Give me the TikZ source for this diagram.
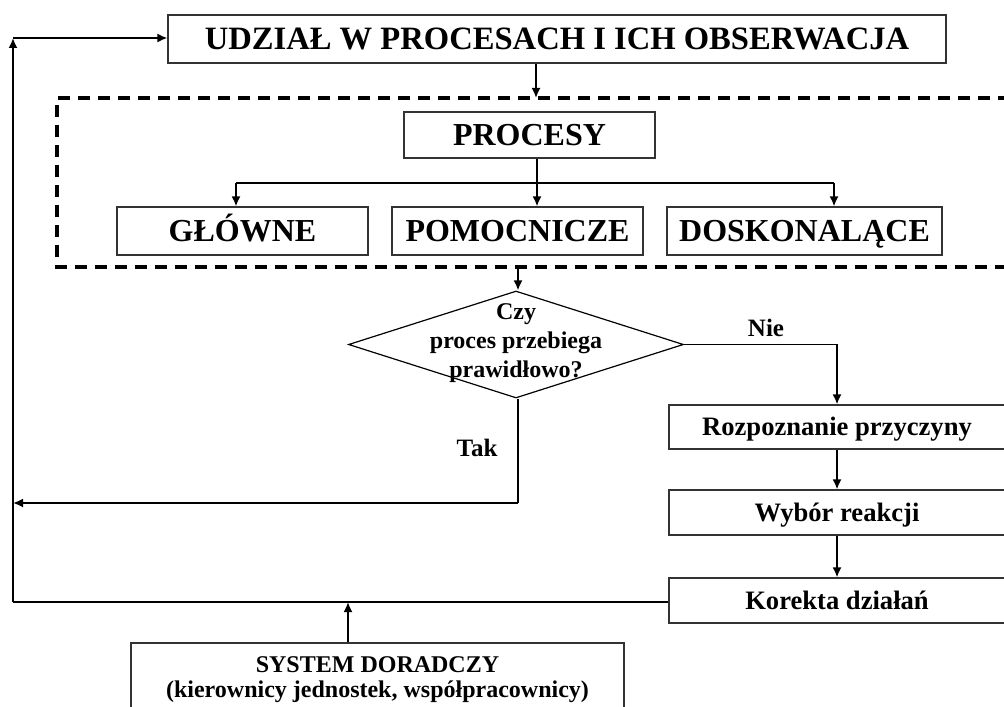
\documentclass[tikz,border=0pt]{standalone}
\usepackage{fontspec}
\setmainfont{Liberation Serif}
\usetikzlibrary{arrows.meta,shapes.geometric}
\begin{document}
\begin{tikzpicture}[x=0.5pt,y=-0.5pt,
  box/.style={draw=black!80, line width=0.6pt, inner sep=0pt, text depth=0pt},
  bigtxt/.style={font=\bfseries\fontsize{16.3}{19}\selectfont, text height=10.8pt},
  midtxt/.style={font=\bfseries\fontsize{16}{18}\selectfont, text height=10.6pt},
  smtxt/.style={font=\bfseries\fontsize{13.3}{15}\selectfont, text height=8.8pt},
  lbltxt/.style={font=\bfseries\fontsize{12.5}{14.5}\selectfont, align=center, inner sep=0pt},
  conn/.style={line width=0.9pt, -{Latex[length=5pt,width=4.5pt]}},
  plain/.style={line width=0.9pt}]
\useasboundingbox (0,0) rectangle (1004,706);
% dashed frame
\draw[line width=2pt, dash pattern=on 6pt off 4pt] (1030,98) -- (57,98) -- (57,267) -- (1030,267);
% boxes
\node[box, bigtxt, minimum width=389pt, minimum height=24pt] (top) at (557,39) {UDZIAŁ W PROCESACH I ICH OBSERWACJA};
\node[box, midtxt, minimum width=125.5pt, minimum height=23pt] (proc) at (529.5,135) {PROCESY};
\node[box, midtxt, minimum width=125.5pt, minimum height=24pt] (gl) at (242.5,231) {GŁÓWNE};
\node[box, midtxt, minimum width=125.5pt, minimum height=24pt] (pom) at (517.5,231) {POMOCNICZE};
\node[box, midtxt, minimum width=137.5pt, minimum height=24pt] (dos) at (804.5,231) {DOSKONALĄCE};
\node[draw=black, line width=0.6pt, shape=diamond, inner sep=0pt, minimum width=167.5pt, minimum height=53.5pt] (dia) at (516,344.5) {};
\node[lbltxt, font=\bfseries\fontsize{12}{14.5}\selectfont] (dtext) at (516,343) {Czy\\proces przebiega\\prawidłowo?};
\node[box, smtxt, minimum width=168pt, minimum height=22pt] (roz) at (837,427) {Rozpoznanie przyczyny};
\node[box, smtxt, minimum width=168pt, minimum height=22.5pt] (wyb) at (837,512.5) {Wybór reakcji};
\node[box, smtxt, minimum width=168pt, minimum height=22.5pt] (kor) at (837,600.5) {Korekta działań};
\node[box, minimum width=246.5pt, minimum height=40pt] (sys) at (377.5,683) {};
\node[lbltxt, font=\bfseries\fontsize{12}{12.5}\selectfont] (systext) at (377.5,680) {SYSTEM DORADCZY\\(kierownicy jednostek, współpracownicy)};
% labels
\node[lbltxt] (nie) at (766,328) {Nie};
\node[lbltxt] (tak) at (477,448) {Tak};
% coordinates
\coordinate (dtop) at (536,98);
\coordinate (br) at (537,183);
\coordinate (brL) at (236,183);
\coordinate (brR) at (834,183);
\coordinate (dbot) at (518,267);
\coordinate (takC) at (518,503);
\coordinate (takL) at (13,503);
\coordinate (lb) at (13,602);
\coordinate (lt) at (13,38);
\coordinate (sysA) at (348,602);
% connectors
\draw[conn] (top.south -| dtop) -- (dtop);
\draw[plain] (proc.south -| br) -- (br);
\draw[plain] (brL) -- (brR);
\draw[conn] (br) -- (pom.north -| br);
\draw[conn] (brL) -- (gl.north -| brL);
\draw[conn] (brR) -- (dos.north -| brR);
\draw[conn] (dbot) -- (dia.north -| dbot);
\draw[conn] (dia.east) -| (roz.north);
\draw[plain] (dia.south -| takC) -- (takC);
\draw[conn] (takC) -- (takL);
\draw[conn] (roz) -- (wyb);
\draw[conn] (wyb) -- (kor);
\draw[plain] (kor.west |- lb) -- (lb);
\draw[conn] (lb) -- (lt);
\draw[conn] (lt) -- (top.west |- lt);
\draw[conn] (sys.north -| sysA) -- (sysA);
\end{tikzpicture}
\end{document}
